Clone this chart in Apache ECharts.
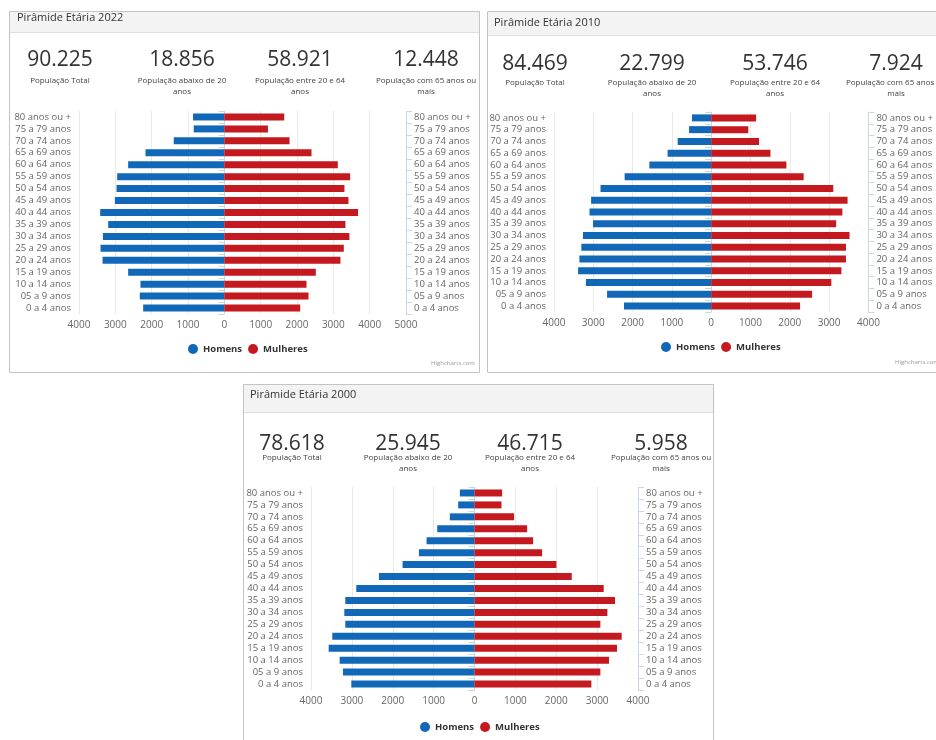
<!DOCTYPE html>
<html>
<head>
<meta charset="utf-8">
<script src="https://cdn.jsdelivr.net/npm/echarts@6/dist/echarts.min.js"></script>
<style>
  html, body { margin: 0; padding: 0; background: #fff; }
  #main { width: 936px; height: 740px; }
</style>
</head>
<body>
<div id="main"></div>
<script>
// faixas etárias, de baixo (0 a 4) para cima (80 ou +)
const categories = [
  "0 a 4 anos", "05 a 9 anos", "10 a 14 anos", "15 a 19 anos", "20 a 24 anos",
  "25 a 29 anos", "30 a 34 anos", "35 a 39 anos", "40 a 44 anos", "45 a 49 anos",
  "50 a 54 anos", "55 a 59 anos", "60 a 64 anos", "65 a 69 anos", "70 a 74 anos",
  "75 a 79 anos", "80 anos ou +"
];

const homens2022 = [2234, 2326, 2308, 2647, 3352, 3407, 3342, 3196, 3416, 3013, 2967, 2949, 2647, 2170, 1392, 842, 861];
const mulheres2022 = [2088, 2317, 2262, 2518, 3196, 3288, 3443, 3333, 3681, 3416, 3306, 3462, 3123, 2399, 1795, 1200, 1648];

const homens2010 = [2219, 2650, 3188, 3387, 3354, 3304, 3263, 3006, 3097, 3056, 2816, 2203, 1574, 1110, 853, 563, 489];
const mulheres2010 = [2261, 2567, 3056, 3313, 3429, 3429, 3520, 3180, 3337, 3470, 3106, 2352, 1913, 1507, 1217, 944, 1143];

const homens2000 = [3014, 3218, 3299, 3568, 3479, 3161, 3185, 3161, 2892, 2338, 1760, 1360, 1173, 912, 603, 399, 358];
const mulheres2000 = [2859, 3079, 3291, 3487, 3601, 3079, 3251, 3438, 3161, 2379, 2004, 1654, 1434, 1287, 969, 660, 676];

const stats2022 = ["90.225", "18.856", "58.921", "12.448"];
const stats2010 = ["84.469", "22.799", "53.746", "7.924"];
const stats2000 = ["78.618", "25.945", "46.715", "5.958"];
const statLabels = [
  "População Total",
  "População abaixo de 20\nanos",
  "População entre 20 e 64\nanos",
  "População com 65 anos ou\nmais"
];
const titles = ["Pirâmide Etária 2022", "Pirâmide Etária 2010", "Pirâmide Etária 2000"];

const FONT = "Open Sans";
const BLUE = "#1268b8";
const RED = "#c4191f";

// painéis: moldura, cabeçalho, colunas dos números
const panels = [
  { x: 9, y: 11, w: 470, h: 361, head: 21, titleX: 17, titleY: 17, numY: 60, labY: 81, cols: [60, 182, 300, 426], stats: stats2022 },
  { x: 487, y: 11, w: 470, h: 361, head: 24, titleX: 494, titleY: 22, numY: 64, labY: 83, cols: [535, 652, 775, 896], stats: stats2010 },
  { x: 243, y: 384, w: 470, h: 380, head: 28, titleX: 250, titleY: 394, numY: 444, labY: 458, cols: [292, 408, 530, 661], stats: stats2000 }
];

const graphic = [];
panels.forEach((p, i) => {
  graphic.push({
    type: "rect", silent: true, z: -10,
    shape: { x: p.x + 0.5, y: p.y + 0.5, width: p.w, height: p.h },
    style: { fill: "#fff", stroke: "#c4c4c4", lineWidth: 1 }
  });
  graphic.push({
    type: "rect", silent: true, z: -9,
    shape: { x: p.x + 1, y: p.y + 1, width: p.w - 1, height: p.head },
    style: { fill: "#f3f3f3" }
  });
  graphic.push({
    type: "rect", silent: true, z: -9,
    shape: { x: p.x + 1, y: p.y + p.head, width: p.w - 1, height: 1 },
    style: { fill: "#dedede" }
  });
  graphic.push({
    type: "text", silent: true,
    x: p.titleX, y: p.titleY + 1,
    style: { text: titles[i], font: "11px '" + FONT + "'", fill: "#333", verticalAlign: "middle" }
  });
  p.cols.forEach((cx, k) => {
    graphic.push({
      type: "text", silent: true,
      x: cx, y: p.numY,
      style: { text: p.stats[k], font: "21px '" + FONT + "'", fill: "#333", align: "center", verticalAlign: "middle" }
    });
    graphic.push({
      type: "text", silent: true,
      x: cx, y: p.labY - 5.5,
      style: { text: statLabels[k], font: "8px '" + FONT + "'", fill: "#444", align: "center", verticalAlign: "top", lineHeight: 11 }
    });
  });
});
graphic.push({ type: "text", silent: true, x: 453, y: 363, style: { text: "Highcharts.com", font: "6px '" + FONT + "'", fill: "#999", align: "center", verticalAlign: "middle" } });
graphic.push({ type: "text", silent: true, x: 917, y: 362, style: { text: "Highcharts.com", font: "6px '" + FONT + "'", fill: "#999", align: "center", verticalAlign: "middle" } });

// grades dos gráficos
const grids = [
  { left: 79, top: 111, width: 327, height: 203 },
  { left: 554, top: 112, width: 322, height: 200 },
  { left: 311, top: 487, width: 327, height: 203 }
];
const xMax = [5000, 4000, 4000];
const homens = [homens2022, homens2010, homens2000];
const mulheres = [mulheres2022, mulheres2010, mulheres2000];
const legendPos = [{ left: 188, top: 344 }, { left: 661, top: 342 }, { left: 420, top: 722 }];

const xAxis = [], yAxis = [], series = [], legend = [];
grids.forEach((g, i) => {
  xAxis.push({
    type: "value", gridIndex: i, min: -4000, max: xMax[i], interval: 1000,
    axisLine: { show: false }, axisTick: { show: false },
    axisLabel: { color: "#666", fontSize: 10, fontFamily: FONT, margin: 6, formatter: v => String(Math.abs(v)) },
    splitLine: { lineStyle: { color: "#e9e9e9" } }
  });
  ["left", "right"].forEach(pos => {
    yAxis.push({
      type: "category", gridIndex: i, position: pos, data: categories,
      axisLine: { show: true, lineStyle: { color: "#ccd6eb" } },
      axisTick: { show: true, length: 6, lineStyle: { color: "#ccd6eb" } },
      axisLabel: { color: "#666", fontSize: 9.5, fontFamily: FONT, margin: 8, interval: 0 },
      splitLine: { show: false }
    });
  });
  series.push({
    name: "Homens", type: "bar", xAxisIndex: i, yAxisIndex: i * 2, stack: "p" + i,
    barWidth: 7, itemStyle: { color: BLUE }, data: homens[i].map(v => -v)
  });
  series.push({
    name: "Mulheres", type: "bar", xAxisIndex: i, yAxisIndex: i * 2, stack: "p" + i,
    barWidth: 7, itemStyle: { color: RED }, data: mulheres[i]
  });
  legend.push({
    left: legendPos[i].left, top: legendPos[i].top, orient: "horizontal", padding: 0,
    icon: "circle", itemWidth: 10, itemHeight: 10, itemGap: 6,
    data: ["Homens", "Mulheres"],
    textStyle: { color: "#333", fontSize: 9.5, fontWeight: "bold", fontFamily: FONT }
  });
});

const chart = echarts.init(document.getElementById("main"), null, { renderer: "canvas" });
chart.setOption({
  animation: false,
  backgroundColor: "#fff",
  textStyle: { fontFamily: FONT },
  graphic: graphic,
  legend: legend,
  grid: grids.map(g => Object.assign({ containLabel: false }, g)),
  xAxis: xAxis,
  yAxis: yAxis,
  series: series
});
</script>
</body>
</html>
